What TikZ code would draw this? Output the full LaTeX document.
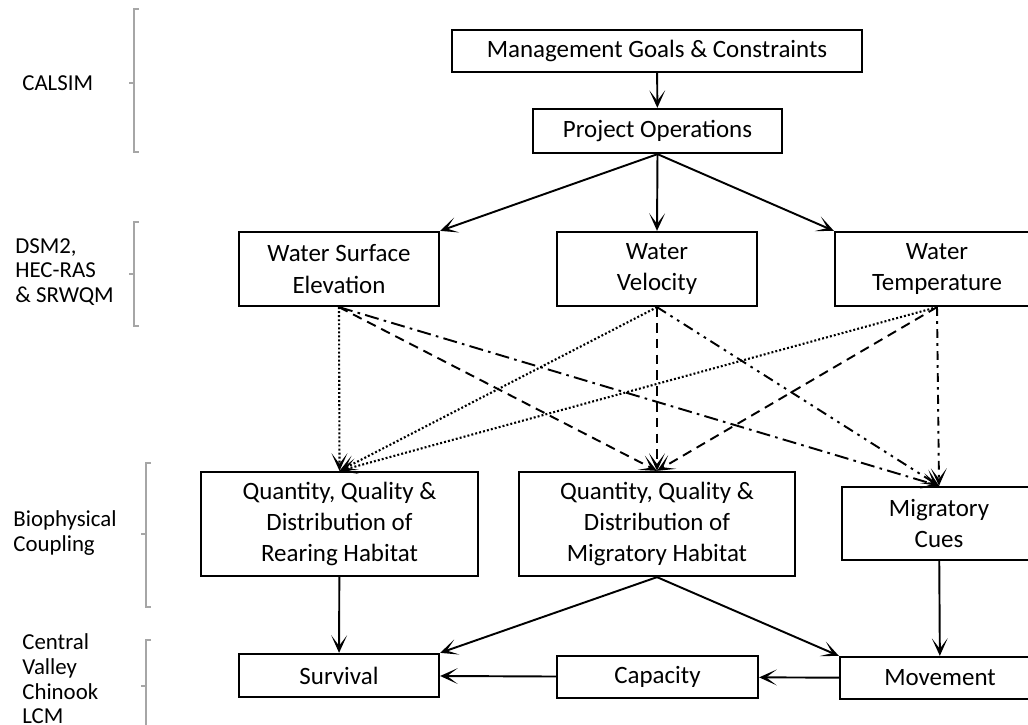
\documentclass[tikz,border=0pt]{standalone}
\usepackage{fontspec}
\setmainfont{Carlito}
\usetikzlibrary{arrows.meta}

\begin{document}
\begin{tikzpicture}[x = 0.02cm, y = -0.02cm,
	>= {Stealth[length = 10pt, width = 9pt, inset = 6pt]},
	box/.style = {draw, line width = 1.3pt, inner sep = 0pt, align = center,
		font = \fontsize{14.2}{17.8}\selectfont},
	flow/.style = {->, line width = 1.1pt},
	dotflow/.style = {->, line width = 1.2pt, dash pattern = on 1.1pt off 1.2pt},
	dashflow/.style = {->, line width = 1.1pt, dash pattern = on 5.5pt off 3.5pt},
	longdashdot/.style = {->, line width = 1.1pt, dash pattern = on 8pt off 3pt on 1.5pt off 3pt},
	dashdotdot/.style = {->, line width = 1.1pt, dash pattern = on 6pt off 3pt on 1.5pt off 3pt on 1.5pt off 3pt},
	dashdot/.style = {->, line width = 1.1pt, dash pattern = on 5pt off 3pt on 1.5pt off 3pt},
	bracket/.style = {draw = gray!70, line width = 0.7pt},
	side/.style = {anchor = west, align = left, inner sep = 0pt,
		font = \fontsize{13}{14}\selectfont}]

	\useasboundingbox (0, 0) rectangle (1028, 724);
	\clip (0, 0) rectangle (1028, 724);

	% Model levels
	
	\node [side] (calsim-label) at (22, 83) {CALSIM};
	\draw [bracket] (139, 9) -- (134, 9) -- (134, 152) -- (139, 152);
	\draw [bracket] (134, 83) -- (129, 83);
	
	\node [side] (dsm-label) at (15, 272) {DSM2,\\HEC-RAS\\\& SRWQM};
	\draw [bracket] (139, 222) -- (134, 222) -- (134, 326) -- (139, 326);
	\draw [bracket] (134, 274) -- (129, 274);
	
	\node [side] (bio-label) at (13, 533) {Biophysical\\Coupling};
	\draw [bracket] (151, 463) -- (146, 463) -- (146, 607) -- (151, 607);
	\draw [bracket] (146, 534) -- (141, 534);
	
	\node [side] (lcm-label) at (22, 679) {Central\\Valley\\Chinook\\LCM};
	\draw [bracket] (151, 640) -- (146, 640) -- (146, 730);
	\draw [bracket] (146, 686) -- (141, 686);
	
	% Management and operations
	
	\node [box, minimum width = 8.2cm, minimum height = 0.84cm] (goals) at (657, 51) {Management Goals \& Constraints};
	\node [box, minimum width = 4.98cm, minimum height = 0.88cm] (ops) at (657.5, 131) {Project Operations};
	\draw [flow] (goals) -- (ops);
	
	% Physical conditions
	
	\node [box, minimum width = 4cm, minimum height = 1.48cm] (elev) at (339, 269) {Water Surface\\Elevation};
	\node [box, minimum width = 4cm, minimum height = 1.48cm] (vel) at (657, 269) {Water\\Velocity};
	\node [box, minimum width = 4.08cm, minimum height = 1.48cm] (temp) at (937, 269) {Water\\Temperature};
	\draw [flow] (ops.south) -- (elev.north east);
	\draw [flow] (ops.south) -- (vel.north);
	\draw [flow] (ops.south) -- (temp.north west);
	
	% Habitat and cues
	
	\node [box, minimum width = 5.54cm, minimum height = 2.08cm] (rear) at (339.5, 524) {Quantity, Quality \&\\Distribution of\\Rearing Habitat};
	\node [box, minimum width = 5.52cm, minimum height = 2.08cm] (mighab) at (657, 524) {Quantity, Quality \&\\Distribution of\\Migratory Habitat};
	\node [box, minimum width = 3.88cm, minimum height = 1.46cm] (cues) at (939, 523.5) {Migratory\\Cues};
	
	\draw [dotflow] (elev.south) -- (rear.north);
	\draw [dotflow] (vel.south) -- (rear.north);
	\draw [dotflow] (temp.south) -- (rear.north);
	\draw [dashflow] (elev.south) -- (mighab.north);
	\draw [dashflow] (vel.south) -- (mighab.north);
	\draw [dashflow] (temp.south) -- (mighab.north);
	\draw [longdashdot] (elev.south) -- (cues.north);
	\draw [dashdotdot] (vel.south) -- (cues.north);
	\draw [dashdot] (temp.south) -- (cues.north);
	
	% Life cycle outputs
	
	\node [box, minimum width = 4cm, minimum height = 0.86cm] (surv) at (339, 675.5) {Survival};
	\node [box, minimum width = 4.02cm, minimum height = 0.84cm] (cap) at (657.5, 677) {Capacity};
	\node [box, minimum width = 4cm, minimum height = 0.84cm] (move) at (940, 678) {Movement};
	
	\draw [flow] (rear) -- (surv);
	\draw [flow] (mighab.south) -- (surv.north east);
	\draw [flow] (mighab.south) -- (move.north west);
	\draw [flow] (cues) -- (move);
	\draw [flow] (move) -- (cap);
	\draw [flow] (cap) -- (surv);
	
\end{tikzpicture}
\end{document}
